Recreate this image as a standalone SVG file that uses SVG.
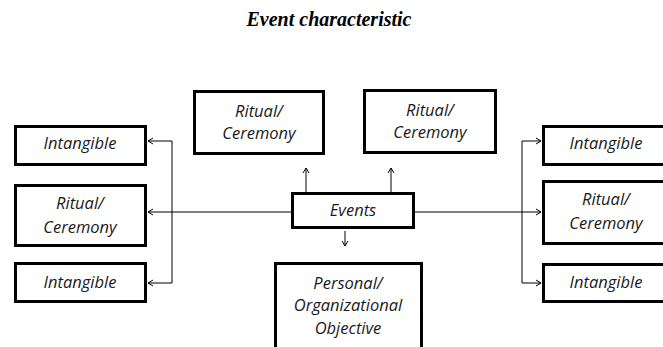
<svg xmlns="http://www.w3.org/2000/svg" width="663" height="347" viewBox="0 0 663 347">
<defs>
<style>
.box{fill:#fff;stroke:#000;stroke-width:3}
.lbl{font-family:"Open Sans","DejaVu Sans",sans-serif;font-style:italic;font-size:16.5px;fill:#1a1a1a;text-anchor:middle}
.ln{fill:none;stroke:#000;stroke-width:1}
.title{font-family:"Liberation Serif","DejaVu Serif",serif;font-style:italic;font-weight:bold;font-size:20px;fill:#000;text-anchor:middle}
</style>
<marker id="ah" markerWidth="8" markerHeight="8" refX="7" refY="4" orient="auto" markerUnits="userSpaceOnUse">
<path d="M2,1 L7,4 L2,7" fill="none" stroke="#000" stroke-width="1"/>
</marker>
</defs>
<rect width="663" height="347" fill="#fff"/>
<text class="title" x="329" y="26">Event characteristic</text>
<g id="connectors">
<line class="ln" x1="291" y1="212" x2="148" y2="212" marker-end="url(#ah)"/>
<polyline class="ln" points="172,141 172,283"/>
<line class="ln" x1="172" y1="141" x2="148" y2="141" marker-end="url(#ah)"/>
<line class="ln" x1="172" y1="283" x2="148" y2="283" marker-end="url(#ah)"/>
<line class="ln" x1="415" y1="212" x2="541" y2="212" marker-end="url(#ah)"/>
<polyline class="ln" points="522,141 522,283"/>
<line class="ln" x1="522" y1="141" x2="541" y2="141" marker-end="url(#ah)"/>
<line class="ln" x1="522" y1="283" x2="541" y2="283" marker-end="url(#ah)"/>
<line class="ln" x1="306" y1="192" x2="306" y2="168" marker-end="url(#ah)"/>
<line class="ln" x1="391" y1="192" x2="391" y2="168" marker-end="url(#ah)"/>
<line class="ln" x1="345" y1="231" x2="345" y2="246" marker-end="url(#ah)"/>
</g>
<g id="events"><rect class="box" x="292.5" y="193.5" width="121" height="34"/><text class="lbl" x="353" y="216">Events</text></g>
<g id="top-left"><rect class="box" x="194.5" y="91.5" width="129" height="62"/><text class="lbl" x="259" y="117">Ritual/</text><text class="lbl" x="259" y="139">Ceremony</text></g>
<g id="top-right"><rect class="box" x="364.5" y="90.5" width="131" height="62"/><text class="lbl" x="430" y="116">Ritual/</text><text class="lbl" x="430" y="138">Ceremony</text></g>
<g id="left-1"><rect class="box" x="15.5" y="126.5" width="130" height="38"/><text class="lbl" x="80" y="149">Intangible</text></g>
<g id="left-2"><rect class="box" x="15.5" y="185.5" width="130" height="60"/><text class="lbl" x="80" y="209">Ritual/</text><text class="lbl" x="80" y="233">Ceremony</text></g>
<g id="left-3"><rect class="box" x="15.5" y="263.5" width="130" height="38"/><text class="lbl" x="80" y="288">Intangible</text></g>
<g id="right-1"><rect class="box" x="543.5" y="126.5" width="130" height="38"/><text class="lbl" x="606" y="149">Intangible</text></g>
<g id="right-2"><rect class="box" x="543.5" y="181.5" width="130" height="62"/><text class="lbl" x="606" y="205">Ritual/</text><text class="lbl" x="606" y="229">Ceremony</text></g>
<g id="right-3"><rect class="box" x="543.5" y="264.5" width="130" height="37"/><text class="lbl" x="606" y="288">Intangible</text></g>
<g id="bottom"><rect class="box" x="275.5" y="263.5" width="146" height="100"/><text class="lbl" x="348" y="289">Personal/</text><text class="lbl" x="348" y="311">Organizational</text><text class="lbl" x="348" y="334">Objective</text></g>
</svg>
